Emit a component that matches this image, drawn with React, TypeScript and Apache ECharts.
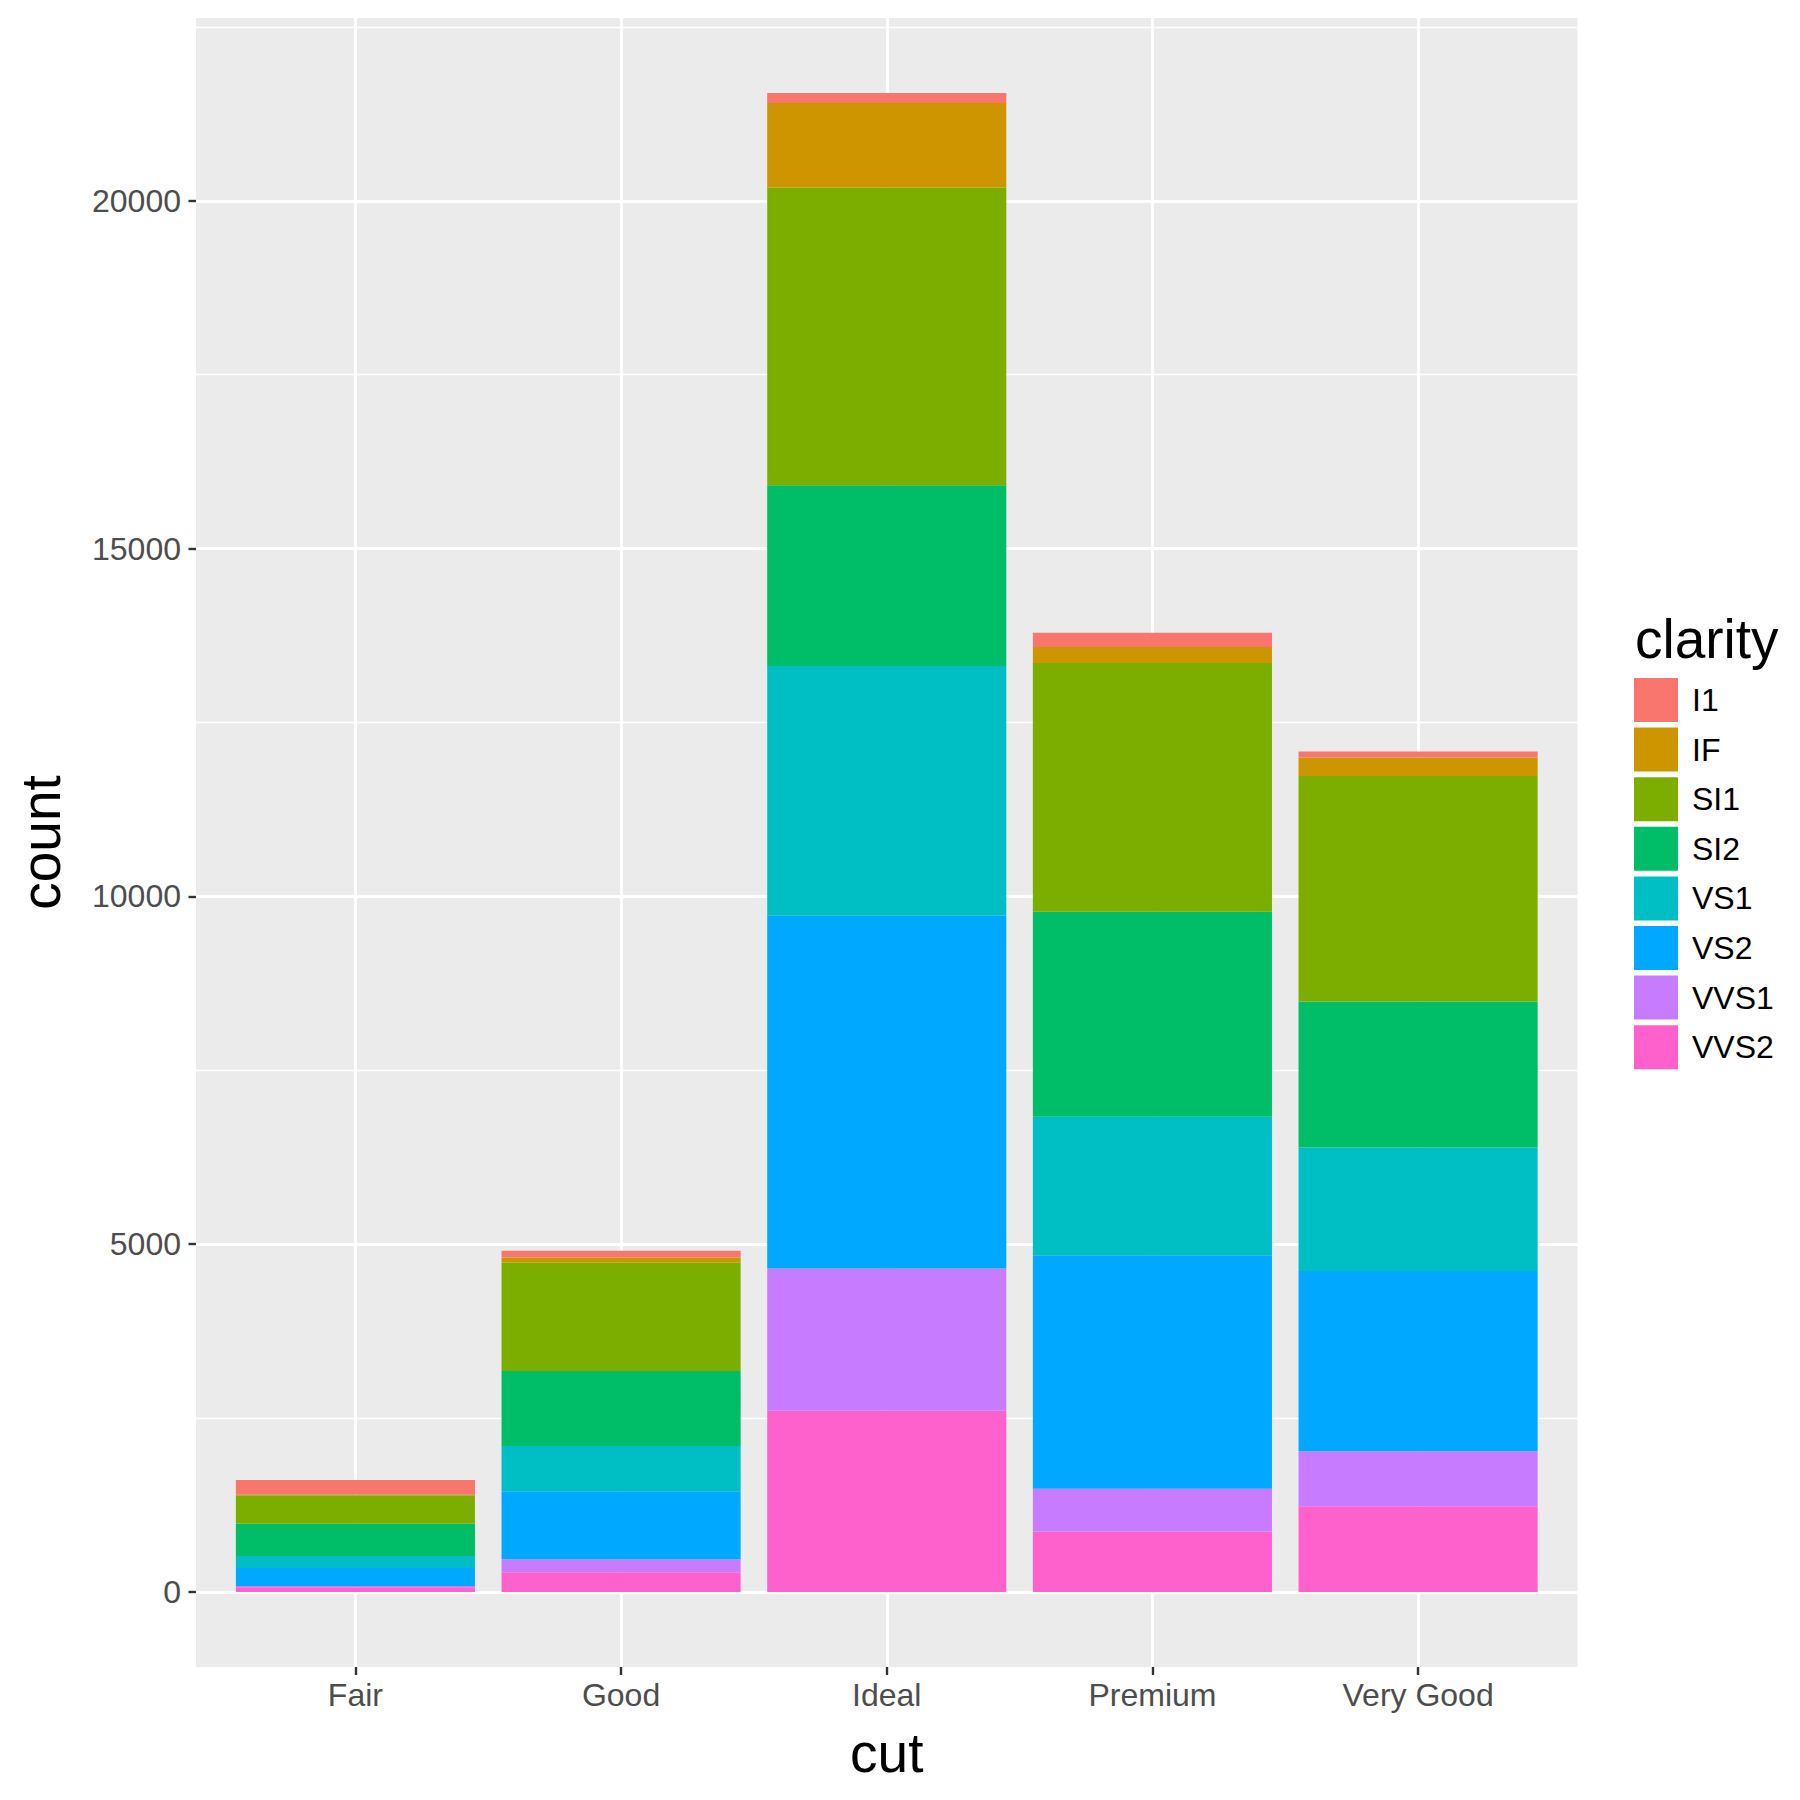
import React, { useEffect, useRef } from 'react';
import * as echarts from 'echarts';

// diamonds: counts of cut x clarity
const cuts = ['Fair', 'Good', 'Ideal', 'Premium', 'Very Good'];
const clarities = ['I1', 'IF', 'SI1', 'SI2', 'VS1', 'VS2', 'VVS1', 'VVS2'];
const clarityColors = ['#F8766D', '#CD9600', '#7CAE00', '#00BE67', '#00BFC4', '#00A9FF', '#C77CFF', '#FF61CC'];

// one array per clarity, values in the order of `cuts`
const countI1 = [210, 96, 146, 205, 84];
const countIF = [9, 71, 1212, 230, 268];
const countSI1 = [408, 1560, 4282, 3575, 3240];
const countSI2 = [466, 1081, 2598, 2949, 2100];
const countVS1 = [170, 648, 3589, 1989, 1775];
const countVS2 = [261, 978, 5071, 3357, 2591];
const countVVS1 = [17, 186, 2047, 616, 789];
const countVVS2 = [69, 286, 2606, 870, 1235];

const yMajorTicks = [0, 5000, 10000, 15000, 20000];
const yMinorTicks = [2500, 7500, 12500, 17500, 22500];
const xTicks = [1, 2, 3, 4, 5];

const FONT = '"Liberation Sans", Arial, Helvetica, sans-serif';

// panel box in px
const PANEL_LEFT = 196;
const PANEL_TOP = 18;
const PANEL_W = 1381.5;
const PANEL_H = 1649;

const App: React.FC = () => {
  const chartRef = useRef<HTMLDivElement>(null);

  useEffect(() => {
    document.body.style.margin = '0';
    if (!chartRef.current) return () => {};
    const chart = echarts.init(chartRef.current, null, { renderer: 'svg', width: 1800, height: 1800 });

    const byClarity: number[][] = [countI1, countIF, countSI1, countSI2, countVS1, countVS2, countVVS1, countVVS2];
    const totals = cuts.map((_, i) => byClarity.reduce((s, arr) => s + arr[i], 0));
    const top = Math.max(...totals);
    // ggplot-like expansion: 5% on the count axis, 0.6 of a category on the discrete one
    const yLo = -0.05 * top;
    const yHi = top * 1.05;
    const xLo = 1 - 0.6;
    const xHi = cuts.length + 0.6;
    const unit = PANEL_W / (xHi - xLo);
    // the bar grid spans exactly the category bands (0.5 .. n+0.5)
    const barLeft = PANEL_LEFT + (0.5 - xLo) * unit;
    const barWidth = cuts.length * unit;

    // ggplot stacks the first level on top, so feed series bottom-up
    const series = clarities
      .map((name, k) => ({
        name,
        type: 'bar',
        stack: 'total',
        barWidth: '90%',
        xAxisIndex: 1,
        yAxisIndex: 2,
        itemStyle: { color: clarityColors[k] },
        data: byClarity[k],
      }))
      .reverse();

    const option: any = {
      animation: false,
      backgroundColor: '#FFFFFF',
      textStyle: { fontFamily: FONT },
      grid: [
        {
          left: PANEL_LEFT,
          top: PANEL_TOP,
          width: PANEL_W,
          height: PANEL_H,
          show: true,
          backgroundColor: '#EBEBEB',
          borderWidth: 0,
        },
        {
          left: barLeft,
          top: PANEL_TOP,
          width: barWidth,
          height: PANEL_H,
          show: false,
        },
      ],
      xAxis: [
        {
          gridIndex: 0,
          type: 'value',
          position: 'bottom',
          min: xLo,
          max: xHi,
          name: 'cut',
          nameLocation: 'middle',
          nameGap: 58,
          nameTextStyle: { fontSize: 55, color: '#000000', fontFamily: FONT },
          axisLine: { show: false, onZero: false },
          axisTick: { show: true, length: 8, customValues: xTicks, lineStyle: { color: '#333333', width: 2.4 } },
          axisLabel: {
            customValues: xTicks,
            formatter: (v: number) => cuts[Math.round(v) - 1] ?? '',
            fontSize: 32,
            color: '#4D4D4D',
            margin: 12,
            fontFamily: FONT,
          },
          splitLine: { show: true, lineStyle: { color: '#FFFFFF', width: 2.8 } },
        },
        {
          gridIndex: 1,
          type: 'category',
          data: cuts,
          show: false,
          axisLine: { show: false, onZero: false },
          axisTick: { show: false },
          axisLabel: { show: false },
          splitLine: { show: false },
        },
      ],
      yAxis: [
        {
          gridIndex: 0,
          type: 'value',
          position: 'left',
          min: yLo,
          max: yHi,
          name: 'count',
          nameLocation: 'middle',
          nameRotate: 90,
          nameGap: 128,
          nameTextStyle: { fontSize: 55, color: '#000000', fontFamily: FONT },
          axisLine: { show: false, onZero: false },
          axisTick: { show: true, length: 7.5, customValues: yMajorTicks, lineStyle: { color: '#333333', width: 2.4 } },
          axisLabel: {
            customValues: yMajorTicks,
            formatter: (v: number) => String(v),
            fontSize: 32,
            color: '#4D4D4D',
            margin: 15,
            fontFamily: FONT,
          },
          splitLine: { show: true, lineStyle: { color: '#FFFFFF', width: 2.8 } },
        },
        {
          // minor grid only
          gridIndex: 0,
          type: 'value',
          position: 'left',
          min: yLo,
          max: yHi,
          axisLine: { show: false, onZero: false },
          axisTick: { show: false, customValues: yMinorTicks },
          axisLabel: { show: false, customValues: yMinorTicks },
          splitLine: { show: true, lineStyle: { color: '#FFFFFF', width: 1.4 } },
        },
        {
          gridIndex: 1,
          type: 'value',
          min: yLo,
          max: yHi,
          show: false,
          axisLine: { show: false, onZero: false },
          axisTick: { show: false },
          axisLabel: { show: false },
          splitLine: { show: false },
        },
      ],
      legend: {
        orient: 'vertical',
        left: 1634,
        top: 678,
        padding: 0,
        icon: 'rect',
        itemWidth: 44,
        itemHeight: 44,
        itemGap: 5.6,
        data: clarities,
        selectedMode: false,
        textStyle: { fontSize: 32, color: '#000000', fontFamily: FONT, padding: [0, 0, 0, 9] },
      },
      graphic: [
        {
          type: 'text',
          x: 1635,
          y: 639,
          style: { text: 'clarity', fontSize: 55, fill: '#000000', fontFamily: FONT, verticalAlign: 'middle', align: 'left' },
        },
      ],
      series,
    };

    chart.setOption(option);
    return () => {
      chart.dispose();
    };
  }, []);

  return <div ref={chartRef} style={{ width: 1800, height: 1800 }} />;
};

export default App;
